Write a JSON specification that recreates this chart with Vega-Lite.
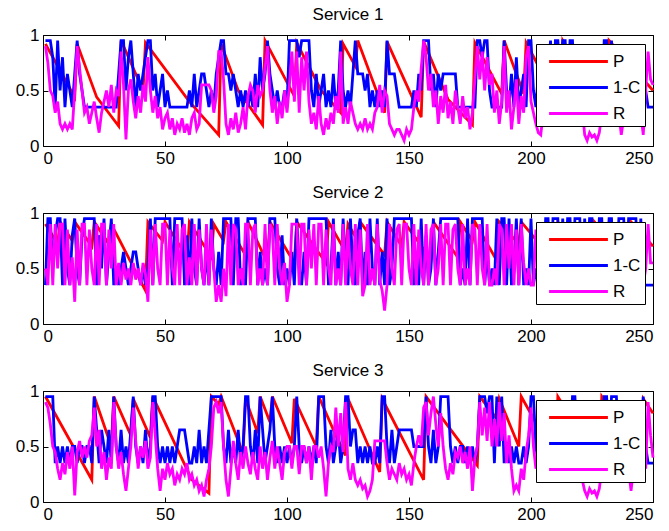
{
"$schema":"https://vega.github.io/schema/vega-lite/v6.json",
"padding":{"left":14,"top":5,"right":0,"bottom":4},
"background":"white",
"spacing":16,
"config":{
 "view":{"stroke":"black","strokeWidth":1},
 "font":"Liberation Sans",
 "axis":{"grid":false,"domain":false,"tickColor":"black","tickSize":-5,"labelColor":"black","labelFontSize":17,"labelFont":"Liberation Sans","labelPadding":9},
 "title":{"fontSize":17,"fontWeight":"normal","font":"Liberation Sans","color":"black","offset":2},
 "line":{"strokeWidth":2.8}
},
"resolve":{"scale":{"color":"independent"}},
"datasets":{
"p1":[{"x":1,"y":0.92},{"x":13,"y":0.44},{"x":14,"y":0.92},{"x":22,"y":0.44},{"x":31,"y":0.18},{"x":32,"y":0.95},{"x":41,"y":0.5},{"x":42,"y":0.93},{"x":60,"y":0.4},{"x":72,"y":0.1},{"x":73,"y":0.92},{"x":80,"y":0.5},{"x":90,"y":0.19},{"x":91,"y":0.95},{"x":103,"y":0.45},{"x":104,"y":0.93},{"x":114,"y":0.5},{"x":122,"y":0.3},{"x":123,"y":0.92},{"x":128,"y":0.72},{"x":129,"y":0.95},{"x":140,"y":0.3},{"x":141,"y":0.94},{"x":155,"y":0.26},{"x":156,"y":0.94},{"x":166,"y":0.42},{"x":176,"y":0.19},{"x":177,"y":0.93},{"x":188,"y":0.47},{"x":189,"y":0.95},{"x":197,"y":0.47},{"x":198,"y":0.93},{"x":212,"y":0.35},{"x":213,"y":0.95},{"x":231,"y":0.3},{"x":232,"y":0.95},{"x":250,"y":0.5}],
"p2":[{"x":1,"y":0.9},{"x":6,"y":0.72},{"x":7,"y":0.92},{"x":12,"y":0.75},{"x":13,"y":0.92},{"x":20,"y":0.7},{"x":21,"y":0.92},{"x":27,"y":0.72},{"x":28,"y":0.9},{"x":42,"y":0.3},{"x":43,"y":0.92},{"x":49,"y":0.75},{"x":50,"y":0.92},{"x":59,"y":0.6},{"x":60,"y":0.92},{"x":69,"y":0.6},{"x":70,"y":0.9},{"x":74,"y":0.75},{"x":75,"y":0.92},{"x":83,"y":0.62},{"x":84,"y":0.92},{"x":92,"y":0.55},{"x":93,"y":0.92},{"x":103,"y":0.55},{"x":104,"y":0.92},{"x":116,"y":0.55},{"x":117,"y":0.92},{"x":124,"y":0.65},{"x":125,"y":0.9},{"x":129,"y":0.75},{"x":130,"y":0.92},{"x":140,"y":0.62},{"x":141,"y":0.92},{"x":147,"y":0.7},{"x":148,"y":0.92},{"x":159,"y":0.58},{"x":160,"y":0.92},{"x":170,"y":0.6},{"x":171,"y":0.92},{"x":176,"y":0.75},{"x":177,"y":0.92},{"x":186,"y":0.57},{"x":187,"y":0.92},{"x":195,"y":0.72},{"x":196,"y":0.92},{"x":210,"y":0.55},{"x":211,"y":0.92},{"x":225,"y":0.5},{"x":226,"y":0.92},{"x":240,"y":0.55},{"x":241,"y":0.92},{"x":250,"y":0.7}],
"p3":[{"x":1,"y":0.95},{"x":20,"y":0.2},{"x":21,"y":0.95},{"x":28,"y":0.5},{"x":29,"y":0.95},{"x":36,"y":0.6},{"x":37,"y":0.93},{"x":44,"y":0.58},{"x":45,"y":0.95},{"x":61,"y":0.2},{"x":68,"y":0.08},{"x":69,"y":0.95},{"x":72,"y":0.88},{"x":73,"y":0.95},{"x":82,"y":0.44},{"x":83,"y":0.93},{"x":88,"y":0.62},{"x":89,"y":0.95},{"x":93,"y":0.72},{"x":94,"y":0.95},{"x":102,"y":0.53},{"x":103,"y":0.93},{"x":112,"y":0.5},{"x":113,"y":0.95},{"x":120,"y":0.6},{"x":124,"y":0.42},{"x":125,"y":0.93},{"x":138,"y":0.27},{"x":139,"y":0.93},{"x":156,"y":0.2},{"x":157,"y":0.95},{"x":178,"y":0.33},{"x":179,"y":0.95},{"x":186,"y":0.75},{"x":187,"y":0.93},{"x":195,"y":0.5},{"x":196,"y":0.95},{"x":210,"y":0.4},{"x":211,"y":0.95},{"x":228,"y":0.35},{"x":229,"y":0.95},{"x":245,"y":0.45},{"x":246,"y":0.93},{"x":250,"y":0.8}],
"d1":[{"x":1,"1-C":0.95,"R":0.9},{"x":2,"1-C":0.95,"R":0.75},{"x":3,"1-C":0.95,"R":0.5},{"x":4,"1-C":0.8,"R":0.45},{"x":5,"1-C":0.35,"R":0.3},{"x":6,"1-C":0.95,"R":0.4},{"x":7,"1-C":0.5,"R":0.2},{"x":8,"1-C":0.8,"R":0.15},{"x":9,"1-C":0.35,"R":0.2},{"x":10,"1-C":0.65,"R":0.15},{"x":11,"1-C":0.5,"R":0.2},{"x":12,"1-C":0.35,"R":0.15},{"x":13,"1-C":0.65,"R":0.5},{"x":14,"1-C":0.95,"R":0.9},{"x":15,"1-C":0.65,"R":0.7},{"x":16,"1-C":0.5,"R":0.5},{"x":17,"1-C":0.35,"R":0.3},{"x":18,"1-C":0.35,"R":0.35},{"x":19,"1-C":0.35,"R":0.2},{"x":20,"1-C":0.35,"R":0.3},{"x":21,"1-C":0.35,"R":0.4},{"x":22,"1-C":0.35,"R":0.25},{"x":23,"1-C":0.35,"R":0.12},{"x":24,"1-C":0.35,"R":0.3},{"x":25,"1-C":0.35,"R":0.4},{"x":26,"1-C":0.35,"R":0.5},{"x":27,"1-C":0.35,"R":0.35},{"x":28,"1-C":0.35,"R":0.55},{"x":29,"1-C":0.35,"R":0.3},{"x":30,"1-C":0.35,"R":0.5},{"x":31,"1-C":0.65,"R":0.45},{"x":32,"1-C":0.95,"R":0.85},{"x":33,"1-C":0.95,"R":0.55},{"x":34,"1-C":0.5,"R":0.06},{"x":35,"1-C":0.8,"R":0.5},{"x":36,"1-C":0.95,"R":0.6},{"x":37,"1-C":0.65,"R":0.4},{"x":38,"1-C":0.35,"R":0.25},{"x":39,"1-C":0.65,"R":0.45},{"x":40,"1-C":0.5,"R":0.3},{"x":41,"1-C":0.65,"R":0.55},{"x":42,"1-C":0.8,"R":0.4},{"x":43,"1-C":0.95,"R":0.8},{"x":44,"1-C":0.95,"R":0.5},{"x":45,"1-C":0.5,"R":0.3},{"x":46,"1-C":0.65,"R":0.45},{"x":47,"1-C":0.35,"R":0.25},{"x":48,"1-C":0.5,"R":0.35},{"x":49,"1-C":0.65,"R":0.15},{"x":50,"1-C":0.35,"R":0.25},{"x":51,"1-C":0.5,"R":0.3},{"x":52,"1-C":0.35,"R":0.15},{"x":53,"1-C":0.35,"R":0.25},{"x":54,"1-C":0.35,"R":0.1},{"x":55,"1-C":0.35,"R":0.2},{"x":56,"1-C":0.35,"R":0.15},{"x":57,"1-C":0.35,"R":0.25},{"x":58,"1-C":0.35,"R":0.12},{"x":59,"1-C":0.35,"R":0.2},{"x":60,"1-C":0.5,"R":0.1},{"x":61,"1-C":0.35,"R":0.25},{"x":62,"1-C":0.65,"R":0.3},{"x":63,"1-C":0.35,"R":0.15},{"x":64,"1-C":0.5,"R":0.2},{"x":65,"1-C":0.65,"R":0.55},{"x":66,"1-C":0.65,"R":0.55},{"x":67,"1-C":0.5,"R":0.55},{"x":68,"1-C":0.35,"R":0.55},{"x":69,"1-C":0.5,"R":0.5},{"x":70,"1-C":0.35,"R":0.3},{"x":71,"1-C":0.65,"R":0.45},{"x":72,"1-C":0.8,"R":0.85},{"x":73,"1-C":0.95,"R":0.85},{"x":74,"1-C":0.95,"R":0.6},{"x":75,"1-C":0.65,"R":0.2},{"x":76,"1-C":0.65,"R":0.1},{"x":77,"1-C":0.5,"R":0.25},{"x":78,"1-C":0.65,"R":0.15},{"x":79,"1-C":0.5,"R":0.3},{"x":80,"1-C":0.35,"R":0.12},{"x":81,"1-C":0.5,"R":0.2},{"x":82,"1-C":0.35,"R":0.35},{"x":83,"1-C":0.5,"R":0.15},{"x":84,"1-C":0.35,"R":0.45},{"x":85,"1-C":0.5,"R":0.55},{"x":86,"1-C":0.35,"R":0.5},{"x":87,"1-C":0.65,"R":0.3},{"x":88,"1-C":0.35,"R":0.55},{"x":89,"1-C":0.8,"R":0.45},{"x":90,"1-C":0.5,"R":0.5},{"x":91,"1-C":0.65,"R":0.7},{"x":92,"1-C":0.95,"R":0.9},{"x":93,"1-C":0.65,"R":0.5},{"x":94,"1-C":0.5,"R":0.3},{"x":95,"1-C":0.35,"R":0.45},{"x":96,"1-C":0.5,"R":0.2},{"x":97,"1-C":0.35,"R":0.4},{"x":98,"1-C":0.35,"R":0.25},{"x":99,"1-C":0.5,"R":0.5},{"x":100,"1-C":0.35,"R":0.3},{"x":101,"1-C":0.95,"R":0.55},{"x":102,"1-C":0.95,"R":0.85},{"x":103,"1-C":0.95,"R":0.4},{"x":104,"1-C":0.95,"R":0.85},{"x":105,"1-C":0.8,"R":0.3},{"x":106,"1-C":0.95,"R":0.8},{"x":107,"1-C":0.95,"R":0.5},{"x":108,"1-C":0.95,"R":0.85},{"x":109,"1-C":0.95,"R":0.4},{"x":110,"1-C":0.5,"R":0.2},{"x":111,"1-C":0.35,"R":0.3},{"x":112,"1-C":0.65,"R":0.15},{"x":113,"1-C":0.35,"R":0.45},{"x":114,"1-C":0.5,"R":0.2},{"x":115,"1-C":0.65,"R":0.1},{"x":116,"1-C":0.35,"R":0.25},{"x":117,"1-C":0.5,"R":0.15},{"x":118,"1-C":0.35,"R":0.3},{"x":119,"1-C":0.65,"R":0.2},{"x":120,"1-C":0.35,"R":0.45},{"x":121,"1-C":0.5,"R":0.3},{"x":122,"1-C":0.95,"R":0.85},{"x":123,"1-C":0.5,"R":0.2},{"x":124,"1-C":0.35,"R":0.35},{"x":125,"1-C":0.5,"R":0.2},{"x":126,"1-C":0.35,"R":0.4},{"x":127,"1-C":0.65,"R":0.3},{"x":128,"1-C":0.95,"R":0.2},{"x":129,"1-C":0.65,"R":0.15},{"x":130,"1-C":0.65,"R":0.2},{"x":131,"1-C":0.65,"R":0.15},{"x":132,"1-C":0.5,"R":0.25},{"x":133,"1-C":0.65,"R":0.15},{"x":134,"1-C":0.35,"R":0.2},{"x":135,"1-C":0.5,"R":0.15},{"x":136,"1-C":0.35,"R":0.3},{"x":137,"1-C":0.5,"R":0.35},{"x":138,"1-C":0.35,"R":0.55},{"x":139,"1-C":0.5,"R":0.3},{"x":140,"1-C":0.35,"R":0.5},{"x":141,"1-C":0.95,"R":0.45},{"x":142,"1-C":0.65,"R":0.2},{"x":143,"1-C":0.65,"R":0.15},{"x":144,"1-C":0.65,"R":0.1},{"x":145,"1-C":0.5,"R":0.15},{"x":146,"1-C":0.35,"R":0.15},{"x":147,"1-C":0.35,"R":0.1},{"x":148,"1-C":0.35,"R":0.05},{"x":149,"1-C":0.35,"R":0.15},{"x":150,"1-C":0.35,"R":0.1},{"x":151,"1-C":0.35,"R":0.15},{"x":152,"1-C":0.5,"R":0.35},{"x":153,"1-C":0.35,"R":0.5},{"x":154,"1-C":0.65,"R":0.4},{"x":155,"1-C":0.5,"R":0.7},{"x":156,"1-C":0.95,"R":0.95},{"x":157,"1-C":0.95,"R":0.8},{"x":158,"1-C":0.95,"R":0.5},{"x":159,"1-C":0.5,"R":0.65},{"x":160,"1-C":0.65,"R":0.35},{"x":161,"1-C":0.35,"R":0.5},{"x":162,"1-C":0.65,"R":0.2},{"x":163,"1-C":0.5,"R":0.45},{"x":164,"1-C":0.65,"R":0.3},{"x":165,"1-C":0.65,"R":0.55},{"x":166,"1-C":0.65,"R":0.25},{"x":167,"1-C":0.65,"R":0.4},{"x":168,"1-C":0.65,"R":0.2},{"x":169,"1-C":0.65,"R":0.5},{"x":170,"1-C":0.35,"R":0.35},{"x":171,"1-C":0.35,"R":0.2},{"x":172,"1-C":0.35,"R":0.45},{"x":173,"1-C":0.35,"R":0.25},{"x":174,"1-C":0.35,"R":0.35},{"x":175,"1-C":0.35,"R":0.15},{"x":176,"1-C":0.35,"R":0.3},{"x":177,"1-C":0.35,"R":0.6},{"x":178,"1-C":0.95,"R":0.9},{"x":179,"1-C":0.95,"R":0.6},{"x":180,"1-C":0.8,"R":0.85},{"x":181,"1-C":0.95,"R":0.5},{"x":182,"1-C":0.95,"R":0.8},{"x":183,"1-C":0.5,"R":0.55},{"x":184,"1-C":0.35,"R":0.65},{"x":185,"1-C":0.35,"R":0.3},{"x":186,"1-C":0.35,"R":0.5},{"x":187,"1-C":0.35,"R":0.2},{"x":188,"1-C":0.35,"R":0.4},{"x":189,"1-C":0.95,"R":0.9},{"x":190,"1-C":0.5,"R":0.3},{"x":191,"1-C":0.35,"R":0.5},{"x":192,"1-C":0.65,"R":0.15},{"x":193,"1-C":0.35,"R":0.35},{"x":194,"1-C":0.8,"R":0.6},{"x":195,"1-C":0.35,"R":0.2},{"x":196,"1-C":0.5,"R":0.45},{"x":197,"1-C":0.65,"R":0.3},{"x":198,"1-C":0.35,"R":0.8},{"x":199,"1-C":0.95,"R":0.9},{"x":200,"1-C":0.95,"R":0.4},{"x":201,"1-C":0.5,"R":0.3},{"x":202,"1-C":0.35,"R":0.2},{"x":203,"1-C":0.65,"R":0.12},{"x":204,"1-C":0.35,"R":0.1},{"x":205,"1-C":0.5,"R":0.3},{"x":206,"1-C":0.35,"R":0.5},{"x":207,"1-C":0.65,"R":0.4},{"x":208,"1-C":0.95,"R":0.6},{"x":209,"1-C":0.5,"R":0.3},{"x":210,"1-C":0.95,"R":0.5},{"x":211,"1-C":0.95,"R":0.7},{"x":212,"1-C":0.65,"R":0.4},{"x":213,"1-C":0.95,"R":0.8},{"x":214,"1-C":0.95,"R":0.5},{"x":215,"1-C":0.5,"R":0.3},{"x":216,"1-C":0.95,"R":0.6},{"x":217,"1-C":0.95,"R":0.4},{"x":218,"1-C":0.5,"R":0.3},{"x":219,"1-C":0.35,"R":0.4},{"x":220,"1-C":0.65,"R":0.25},{"x":221,"1-C":0.35,"R":0.35},{"x":222,"1-C":0.5,"R":0.1},{"x":223,"1-C":0.35,"R":0.05},{"x":224,"1-C":0.35,"R":0.12},{"x":225,"1-C":0.5,"R":0.08},{"x":226,"1-C":0.35,"R":0.1},{"x":227,"1-C":0.65,"R":0.05},{"x":228,"1-C":0.5,"R":0.12},{"x":229,"1-C":0.35,"R":0.3},{"x":230,"1-C":0.95,"R":0.7},{"x":231,"1-C":0.95,"R":0.5},{"x":232,"1-C":0.65,"R":0.4},{"x":233,"1-C":0.95,"R":0.6},{"x":234,"1-C":0.5,"R":0.3},{"x":235,"1-C":0.35,"R":0.25},{"x":236,"1-C":0.5,"R":0.3},{"x":237,"1-C":0.35,"R":0.1},{"x":238,"1-C":0.65,"R":0.25},{"x":239,"1-C":0.35,"R":0.3},{"x":240,"1-C":0.5,"R":0.4},{"x":241,"1-C":0.35,"R":0.3},{"x":242,"1-C":0.35,"R":0.2},{"x":243,"1-C":0.5,"R":0.35},{"x":244,"1-C":0.35,"R":0.25},{"x":245,"1-C":0.65,"R":0.3},{"x":246,"1-C":0.35,"R":0.1},{"x":247,"1-C":0.5,"R":0.5},{"x":248,"1-C":0.35,"R":0.85},{"x":249,"1-C":0.35,"R":0.6},{"x":250,"1-C":0.35,"R":0.55}],
"d2":[{"x":1,"1-C":0.35,"R":0.5},{"x":2,"1-C":0.95,"R":0.35},{"x":3,"1-C":0.95,"R":0.9},{"x":4,"1-C":0.5,"R":0.35},{"x":5,"1-C":0.8,"R":0.9},{"x":6,"1-C":0.95,"R":0.5},{"x":7,"1-C":0.95,"R":0.9},{"x":8,"1-C":0.35,"R":0.9},{"x":9,"1-C":0.95,"R":0.35},{"x":10,"1-C":0.5,"R":0.85},{"x":11,"1-C":0.35,"R":0.35},{"x":12,"1-C":0.8,"R":0.6},{"x":13,"1-C":0.95,"R":0.2},{"x":14,"1-C":0.5,"R":0.85},{"x":15,"1-C":0.35,"R":0.35},{"x":16,"1-C":0.8,"R":0.9},{"x":17,"1-C":0.95,"R":0.9},{"x":18,"1-C":0.95,"R":0.35},{"x":19,"1-C":0.95,"R":0.85},{"x":20,"1-C":0.95,"R":0.5},{"x":21,"1-C":0.95,"R":0.35},{"x":22,"1-C":0.35,"R":0.9},{"x":23,"1-C":0.8,"R":0.35},{"x":24,"1-C":0.5,"R":0.9},{"x":25,"1-C":0.95,"R":0.9},{"x":26,"1-C":0.35,"R":0.35},{"x":27,"1-C":0.65,"R":0.85},{"x":28,"1-C":0.95,"R":0.5},{"x":29,"1-C":0.35,"R":0.9},{"x":30,"1-C":0.5,"R":0.35},{"x":31,"1-C":0.35,"R":0.55},{"x":32,"1-C":0.5,"R":0.35},{"x":33,"1-C":0.65,"R":0.55},{"x":34,"1-C":0.5,"R":0.4},{"x":35,"1-C":0.35,"R":0.5},{"x":36,"1-C":0.5,"R":0.35},{"x":37,"1-C":0.65,"R":0.55},{"x":38,"1-C":0.65,"R":0.4},{"x":39,"1-C":0.5,"R":0.5},{"x":40,"1-C":0.35,"R":0.35},{"x":41,"1-C":0.5,"R":0.55},{"x":42,"1-C":0.35,"R":0.45},{"x":43,"1-C":0.5,"R":0.2},{"x":44,"1-C":0.95,"R":0.85},{"x":45,"1-C":0.35,"R":0.35},{"x":46,"1-C":0.95,"R":0.9},{"x":47,"1-C":0.95,"R":0.5},{"x":48,"1-C":0.95,"R":0.35},{"x":49,"1-C":0.95,"R":0.9},{"x":50,"1-C":0.95,"R":0.9},{"x":51,"1-C":0.95,"R":0.35},{"x":52,"1-C":0.95,"R":0.85},{"x":53,"1-C":0.35,"R":0.5},{"x":54,"1-C":0.95,"R":0.35},{"x":55,"1-C":0.95,"R":0.9},{"x":56,"1-C":0.95,"R":0.35},{"x":57,"1-C":0.95,"R":0.85},{"x":58,"1-C":0.35,"R":0.9},{"x":59,"1-C":0.8,"R":0.35},{"x":60,"1-C":0.35,"R":0.6},{"x":61,"1-C":0.95,"R":0.35},{"x":62,"1-C":0.5,"R":0.9},{"x":63,"1-C":0.35,"R":0.35},{"x":64,"1-C":0.95,"R":0.85},{"x":65,"1-C":0.5,"R":0.5},{"x":66,"1-C":0.35,"R":0.35},{"x":67,"1-C":0.65,"R":0.9},{"x":68,"1-C":0.35,"R":0.35},{"x":69,"1-C":0.95,"R":0.85},{"x":70,"1-C":0.5,"R":0.5},{"x":71,"1-C":0.35,"R":0.2},{"x":72,"1-C":0.65,"R":0.35},{"x":73,"1-C":0.35,"R":0.2},{"x":74,"1-C":0.95,"R":0.5},{"x":75,"1-C":0.95,"R":0.25},{"x":76,"1-C":0.95,"R":0.9},{"x":77,"1-C":0.95,"R":0.35},{"x":78,"1-C":0.35,"R":0.9},{"x":79,"1-C":0.95,"R":0.85},{"x":80,"1-C":0.95,"R":0.35},{"x":81,"1-C":0.35,"R":0.5},{"x":82,"1-C":0.5,"R":0.35},{"x":83,"1-C":0.35,"R":0.9},{"x":84,"1-C":0.95,"R":0.9},{"x":85,"1-C":0.95,"R":0.35},{"x":86,"1-C":0.95,"R":0.85},{"x":87,"1-C":0.95,"R":0.9},{"x":88,"1-C":0.35,"R":0.35},{"x":89,"1-C":0.65,"R":0.5},{"x":90,"1-C":0.35,"R":0.35},{"x":91,"1-C":0.5,"R":0.9},{"x":92,"1-C":0.35,"R":0.35},{"x":93,"1-C":0.95,"R":0.9},{"x":94,"1-C":0.95,"R":0.85},{"x":95,"1-C":0.95,"R":0.35},{"x":96,"1-C":0.5,"R":0.9},{"x":97,"1-C":0.35,"R":0.5},{"x":98,"1-C":0.8,"R":0.35},{"x":99,"1-C":0.35,"R":0.55},{"x":100,"1-C":0.5,"R":0.2},{"x":101,"1-C":0.35,"R":0.35},{"x":102,"1-C":0.65,"R":0.9},{"x":103,"1-C":0.35,"R":0.9},{"x":104,"1-C":0.95,"R":0.9},{"x":105,"1-C":0.5,"R":0.35},{"x":106,"1-C":0.35,"R":0.9},{"x":107,"1-C":0.65,"R":0.9},{"x":108,"1-C":0.35,"R":0.35},{"x":109,"1-C":0.95,"R":0.85},{"x":110,"1-C":0.95,"R":0.5},{"x":111,"1-C":0.95,"R":0.9},{"x":112,"1-C":0.95,"R":0.35},{"x":113,"1-C":0.95,"R":0.9},{"x":114,"1-C":0.95,"R":0.9},{"x":115,"1-C":0.95,"R":0.35},{"x":116,"1-C":0.95,"R":0.85},{"x":117,"1-C":0.35,"R":0.5},{"x":118,"1-C":0.5,"R":0.35},{"x":119,"1-C":0.95,"R":0.9},{"x":120,"1-C":0.35,"R":0.35},{"x":121,"1-C":0.65,"R":0.5},{"x":122,"1-C":0.35,"R":0.35},{"x":123,"1-C":0.95,"R":0.9},{"x":124,"1-C":0.5,"R":0.35},{"x":125,"1-C":0.35,"R":0.85},{"x":126,"1-C":0.95,"R":0.5},{"x":127,"1-C":0.5,"R":0.35},{"x":128,"1-C":0.35,"R":0.9},{"x":129,"1-C":0.8,"R":0.35},{"x":130,"1-C":0.95,"R":0.85},{"x":131,"1-C":0.35,"R":0.25},{"x":132,"1-C":0.65,"R":0.35},{"x":133,"1-C":0.35,"R":0.9},{"x":134,"1-C":0.95,"R":0.35},{"x":135,"1-C":0.5,"R":0.5},{"x":136,"1-C":0.35,"R":0.35},{"x":137,"1-C":0.95,"R":0.9},{"x":138,"1-C":0.35,"R":0.4},{"x":139,"1-C":0.65,"R":0.3},{"x":140,"1-C":0.35,"R":0.12},{"x":141,"1-C":0.95,"R":0.35},{"x":142,"1-C":0.35,"R":0.9},{"x":143,"1-C":0.5,"R":0.5},{"x":144,"1-C":0.95,"R":0.35},{"x":145,"1-C":0.95,"R":0.85},{"x":146,"1-C":0.95,"R":0.9},{"x":147,"1-C":0.95,"R":0.35},{"x":148,"1-C":0.95,"R":0.9},{"x":149,"1-C":0.95,"R":0.9},{"x":150,"1-C":0.95,"R":0.5},{"x":151,"1-C":0.95,"R":0.35},{"x":152,"1-C":0.35,"R":0.9},{"x":153,"1-C":0.5,"R":0.35},{"x":154,"1-C":0.35,"R":0.85},{"x":155,"1-C":0.95,"R":0.5},{"x":156,"1-C":0.35,"R":0.35},{"x":157,"1-C":0.8,"R":0.9},{"x":158,"1-C":0.35,"R":0.35},{"x":159,"1-C":0.5,"R":0.85},{"x":160,"1-C":0.95,"R":0.9},{"x":161,"1-C":0.35,"R":0.35},{"x":162,"1-C":0.65,"R":0.5},{"x":163,"1-C":0.95,"R":0.9},{"x":164,"1-C":0.95,"R":0.35},{"x":165,"1-C":0.95,"R":0.9},{"x":166,"1-C":0.95,"R":0.9},{"x":167,"1-C":0.95,"R":0.35},{"x":168,"1-C":0.95,"R":0.85},{"x":169,"1-C":0.95,"R":0.9},{"x":170,"1-C":0.95,"R":0.5},{"x":171,"1-C":0.35,"R":0.35},{"x":172,"1-C":0.5,"R":0.9},{"x":173,"1-C":0.35,"R":0.35},{"x":174,"1-C":0.95,"R":0.5},{"x":175,"1-C":0.35,"R":0.35},{"x":176,"1-C":0.95,"R":0.9},{"x":177,"1-C":0.95,"R":0.85},{"x":178,"1-C":0.95,"R":0.35},{"x":179,"1-C":0.95,"R":0.9},{"x":180,"1-C":0.95,"R":0.5},{"x":181,"1-C":0.35,"R":0.35},{"x":182,"1-C":0.65,"R":0.9},{"x":183,"1-C":0.35,"R":0.35},{"x":184,"1-C":0.5,"R":0.35},{"x":185,"1-C":0.35,"R":0.5},{"x":186,"1-C":0.95,"R":0.35},{"x":187,"1-C":0.35,"R":0.9},{"x":188,"1-C":0.95,"R":0.85},{"x":189,"1-C":0.95,"R":0.35},{"x":190,"1-C":0.35,"R":0.9},{"x":191,"1-C":0.95,"R":0.5},{"x":192,"1-C":0.35,"R":0.9},{"x":193,"1-C":0.5,"R":0.35},{"x":194,"1-C":0.95,"R":0.85},{"x":195,"1-C":0.35,"R":0.35},{"x":196,"1-C":0.95,"R":0.9},{"x":197,"1-C":0.35,"R":0.55},{"x":198,"1-C":0.5,"R":0.35},{"x":199,"1-C":0.35,"R":0.5},{"x":200,"1-C":0.95,"R":0.35},{"x":201,"1-C":0.35,"R":0.35},{"x":202,"1-C":0.5,"R":0.85},{"x":203,"1-C":0.35,"R":0.5},{"x":204,"1-C":0.65,"R":0.35},{"x":205,"1-C":0.35,"R":0.9},{"x":206,"1-C":0.95,"R":0.35},{"x":207,"1-C":0.95,"R":0.85},{"x":208,"1-C":0.35,"R":0.9},{"x":209,"1-C":0.95,"R":0.35},{"x":210,"1-C":0.95,"R":0.5},{"x":211,"1-C":0.95,"R":0.9},{"x":212,"1-C":0.35,"R":0.35},{"x":213,"1-C":0.95,"R":0.85},{"x":214,"1-C":0.5,"R":0.35},{"x":215,"1-C":0.95,"R":0.9},{"x":216,"1-C":0.95,"R":0.5},{"x":217,"1-C":0.35,"R":0.35},{"x":218,"1-C":0.95,"R":0.9},{"x":219,"1-C":0.95,"R":0.85},{"x":220,"1-C":0.95,"R":0.35},{"x":221,"1-C":0.35,"R":0.5},{"x":222,"1-C":0.95,"R":0.35},{"x":223,"1-C":0.5,"R":0.9},{"x":224,"1-C":0.95,"R":0.35},{"x":225,"1-C":0.95,"R":0.85},{"x":226,"1-C":0.35,"R":0.9},{"x":227,"1-C":0.35,"R":0.35},{"x":228,"1-C":0.95,"R":0.5},{"x":229,"1-C":0.95,"R":0.9},{"x":230,"1-C":0.35,"R":0.35},{"x":231,"1-C":0.5,"R":0.85},{"x":232,"1-C":0.95,"R":0.35},{"x":233,"1-C":0.95,"R":0.9},{"x":234,"1-C":0.35,"R":0.5},{"x":235,"1-C":0.35,"R":0.35},{"x":236,"1-C":0.95,"R":0.9},{"x":237,"1-C":0.95,"R":0.85},{"x":238,"1-C":0.95,"R":0.35},{"x":239,"1-C":0.35,"R":0.5},{"x":240,"1-C":0.95,"R":0.9},{"x":241,"1-C":0.95,"R":0.35},{"x":242,"1-C":0.95,"R":0.85},{"x":243,"1-C":0.95,"R":0.35},{"x":244,"1-C":0.35,"R":0.9},{"x":245,"1-C":0.95,"R":0.5},{"x":246,"1-C":0.35,"R":0.35},{"x":247,"1-C":0.35,"R":0.5},{"x":248,"1-C":0.35,"R":0.9},{"x":249,"1-C":0.35,"R":0.55},{"x":250,"1-C":0.35,"R":0.55}],
"d3":[{"x":1,"1-C":0.95,"R":0.9},{"x":2,"1-C":0.95,"R":0.85},{"x":3,"1-C":0.95,"R":0.7},{"x":4,"1-C":0.95,"R":0.5},{"x":5,"1-C":0.35,"R":0.45},{"x":6,"1-C":0.5,"R":0.3},{"x":7,"1-C":0.35,"R":0.2},{"x":8,"1-C":0.5,"R":0.35},{"x":9,"1-C":0.35,"R":0.25},{"x":10,"1-C":0.5,"R":0.45},{"x":11,"1-C":0.35,"R":0.3},{"x":12,"1-C":0.5,"R":0.5},{"x":13,"1-C":0.5,"R":0.06},{"x":14,"1-C":0.35,"R":0.45},{"x":15,"1-C":0.5,"R":0.55},{"x":16,"1-C":0.5,"R":0.4},{"x":17,"1-C":0.35,"R":0.5},{"x":18,"1-C":0.5,"R":0.4},{"x":19,"1-C":0.5,"R":0.55},{"x":20,"1-C":0.35,"R":0.6},{"x":21,"1-C":0.95,"R":0.85},{"x":22,"1-C":0.65,"R":0.5},{"x":23,"1-C":0.35,"R":0.65},{"x":24,"1-C":0.65,"R":0.3},{"x":25,"1-C":0.5,"R":0.45},{"x":26,"1-C":0.35,"R":0.2},{"x":27,"1-C":0.65,"R":0.4},{"x":28,"1-C":0.35,"R":0.3},{"x":29,"1-C":0.95,"R":0.9},{"x":30,"1-C":0.5,"R":0.5},{"x":31,"1-C":0.35,"R":0.3},{"x":32,"1-C":0.65,"R":0.45},{"x":33,"1-C":0.35,"R":0.25},{"x":34,"1-C":0.5,"R":0.1},{"x":35,"1-C":0.35,"R":0.3},{"x":36,"1-C":0.65,"R":0.5},{"x":37,"1-C":0.95,"R":0.85},{"x":38,"1-C":0.5,"R":0.55},{"x":39,"1-C":0.35,"R":0.3},{"x":40,"1-C":0.5,"R":0.5},{"x":41,"1-C":0.35,"R":0.4},{"x":42,"1-C":0.65,"R":0.55},{"x":43,"1-C":0.35,"R":0.3},{"x":44,"1-C":0.5,"R":0.4},{"x":45,"1-C":0.95,"R":0.9},{"x":46,"1-C":0.95,"R":0.6},{"x":47,"1-C":0.5,"R":0.3},{"x":48,"1-C":0.35,"R":0.1},{"x":49,"1-C":0.5,"R":0.3},{"x":50,"1-C":0.35,"R":0.2},{"x":51,"1-C":0.5,"R":0.35},{"x":52,"1-C":0.35,"R":0.25},{"x":53,"1-C":0.5,"R":0.3},{"x":54,"1-C":0.35,"R":0.15},{"x":55,"1-C":0.5,"R":0.25},{"x":56,"1-C":0.65,"R":0.2},{"x":57,"1-C":0.65,"R":0.3},{"x":58,"1-C":0.65,"R":0.25},{"x":59,"1-C":0.5,"R":0.35},{"x":60,"1-C":0.35,"R":0.2},{"x":61,"1-C":0.35,"R":0.25},{"x":62,"1-C":0.5,"R":0.15},{"x":63,"1-C":0.35,"R":0.2},{"x":64,"1-C":0.65,"R":0.1},{"x":65,"1-C":0.35,"R":0.15},{"x":66,"1-C":0.5,"R":0.05},{"x":67,"1-C":0.35,"R":0.2},{"x":68,"1-C":0.65,"R":0.3},{"x":69,"1-C":0.95,"R":0.5},{"x":70,"1-C":0.95,"R":0.85},{"x":71,"1-C":0.95,"R":0.9},{"x":72,"1-C":0.95,"R":0.8},{"x":73,"1-C":0.95,"R":0.9},{"x":74,"1-C":0.5,"R":0.5},{"x":75,"1-C":0.35,"R":0.2},{"x":76,"1-C":0.65,"R":0.05},{"x":77,"1-C":0.35,"R":0.3},{"x":78,"1-C":0.5,"R":0.55},{"x":79,"1-C":0.35,"R":0.35},{"x":80,"1-C":0.65,"R":0.2},{"x":81,"1-C":0.35,"R":0.45},{"x":82,"1-C":0.5,"R":0.3},{"x":83,"1-C":0.95,"R":0.5},{"x":84,"1-C":0.95,"R":0.35},{"x":85,"1-C":0.5,"R":0.25},{"x":86,"1-C":0.35,"R":0.45},{"x":87,"1-C":0.65,"R":0.3},{"x":88,"1-C":0.35,"R":0.2},{"x":89,"1-C":0.95,"R":0.5},{"x":90,"1-C":0.65,"R":0.3},{"x":91,"1-C":0.35,"R":0.45},{"x":92,"1-C":0.5,"R":0.2},{"x":93,"1-C":0.65,"R":0.4},{"x":94,"1-C":0.95,"R":0.55},{"x":95,"1-C":0.5,"R":0.3},{"x":96,"1-C":0.35,"R":0.5},{"x":97,"1-C":0.5,"R":0.35},{"x":98,"1-C":0.35,"R":0.2},{"x":99,"1-C":0.5,"R":0.45},{"x":100,"1-C":0.35,"R":0.5},{"x":101,"1-C":0.5,"R":0.5},{"x":102,"1-C":0.35,"R":0.3},{"x":103,"1-C":0.5,"R":0.5},{"x":104,"1-C":0.95,"R":0.5},{"x":105,"1-C":0.5,"R":0.25},{"x":106,"1-C":0.35,"R":0.5},{"x":107,"1-C":0.5,"R":0.5},{"x":108,"1-C":0.35,"R":0.35},{"x":109,"1-C":0.5,"R":0.5},{"x":110,"1-C":0.35,"R":0.2},{"x":111,"1-C":0.5,"R":0.5},{"x":112,"1-C":0.35,"R":0.5},{"x":113,"1-C":0.95,"R":0.4},{"x":114,"1-C":0.95,"R":0.5},{"x":115,"1-C":0.95,"R":0.3},{"x":116,"1-C":0.5,"R":0.05},{"x":117,"1-C":0.35,"R":0.35},{"x":118,"1-C":0.65,"R":0.5},{"x":119,"1-C":0.35,"R":0.45},{"x":120,"1-C":0.5,"R":0.85},{"x":121,"1-C":0.65,"R":0.5},{"x":122,"1-C":0.35,"R":0.8},{"x":123,"1-C":0.5,"R":0.45},{"x":124,"1-C":0.95,"R":0.9},{"x":125,"1-C":0.95,"R":0.3},{"x":126,"1-C":0.5,"R":0.2},{"x":127,"1-C":0.65,"R":0.35},{"x":128,"1-C":0.65,"R":0.2},{"x":129,"1-C":0.35,"R":0.15},{"x":130,"1-C":0.5,"R":0.2},{"x":131,"1-C":0.35,"R":0.12},{"x":132,"1-C":0.5,"R":0.15},{"x":133,"1-C":0.35,"R":0.05},{"x":134,"1-C":0.5,"R":0.1},{"x":135,"1-C":0.35,"R":0.2},{"x":136,"1-C":0.35,"R":0.55},{"x":137,"1-C":0.5,"R":0.55},{"x":138,"1-C":0.35,"R":0.55},{"x":139,"1-C":0.95,"R":0.55},{"x":140,"1-C":0.95,"R":0.55},{"x":141,"1-C":0.5,"R":0.35},{"x":142,"1-C":0.35,"R":0.2},{"x":143,"1-C":0.65,"R":0.3},{"x":144,"1-C":0.35,"R":0.25},{"x":145,"1-C":0.5,"R":0.2},{"x":146,"1-C":0.65,"R":0.35},{"x":147,"1-C":0.65,"R":0.25},{"x":148,"1-C":0.65,"R":0.3},{"x":149,"1-C":0.65,"R":0.2},{"x":150,"1-C":0.65,"R":0.25},{"x":151,"1-C":0.65,"R":0.15},{"x":152,"1-C":0.5,"R":0.35},{"x":153,"1-C":0.5,"R":0.5},{"x":154,"1-C":0.5,"R":0.6},{"x":155,"1-C":0.5,"R":0.5},{"x":156,"1-C":0.5,"R":0.85},{"x":157,"1-C":0.95,"R":0.9},{"x":158,"1-C":0.5,"R":0.6},{"x":159,"1-C":0.35,"R":0.8},{"x":160,"1-C":0.65,"R":0.95},{"x":161,"1-C":0.35,"R":0.7},{"x":162,"1-C":0.5,"R":0.5},{"x":163,"1-C":0.95,"R":0.8},{"x":164,"1-C":0.95,"R":0.5},{"x":165,"1-C":0.95,"R":0.3},{"x":166,"1-C":0.95,"R":0.2},{"x":167,"1-C":0.5,"R":0.35},{"x":168,"1-C":0.35,"R":0.25},{"x":169,"1-C":0.5,"R":0.45},{"x":170,"1-C":0.35,"R":0.4},{"x":171,"1-C":0.5,"R":0.5},{"x":172,"1-C":0.5,"R":0.35},{"x":173,"1-C":0.35,"R":0.45},{"x":174,"1-C":0.5,"R":0.3},{"x":175,"1-C":0.35,"R":0.5},{"x":176,"1-C":0.5,"R":0.1},{"x":177,"1-C":0.35,"R":0.4},{"x":178,"1-C":0.5,"R":0.5},{"x":179,"1-C":0.95,"R":0.9},{"x":180,"1-C":0.95,"R":0.6},{"x":181,"1-C":0.95,"R":0.85},{"x":182,"1-C":0.8,"R":0.55},{"x":183,"1-C":0.95,"R":0.9},{"x":184,"1-C":0.95,"R":0.5},{"x":185,"1-C":0.35,"R":0.75},{"x":186,"1-C":0.95,"R":0.5},{"x":187,"1-C":0.5,"R":0.9},{"x":188,"1-C":0.95,"R":0.55},{"x":189,"1-C":0.35,"R":0.8},{"x":190,"1-C":0.5,"R":0.35},{"x":191,"1-C":0.35,"R":0.6},{"x":192,"1-C":0.5,"R":0.3},{"x":193,"1-C":0.35,"R":0.1},{"x":194,"1-C":0.5,"R":0.15},{"x":195,"1-C":0.35,"R":0.1},{"x":196,"1-C":0.35,"R":0.3},{"x":197,"1-C":0.5,"R":0.2},{"x":198,"1-C":0.35,"R":0.45},{"x":199,"1-C":0.5,"R":0.6},{"x":200,"1-C":0.95,"R":0.85},{"x":201,"1-C":0.95,"R":0.5},{"x":202,"1-C":0.5,"R":0.3},{"x":203,"1-C":0.35,"R":0.4},{"x":204,"1-C":0.65,"R":0.25},{"x":205,"1-C":0.35,"R":0.5},{"x":206,"1-C":0.5,"R":0.3},{"x":207,"1-C":0.35,"R":0.45},{"x":208,"1-C":0.5,"R":0.35},{"x":209,"1-C":0.35,"R":0.2},{"x":210,"1-C":0.65,"R":0.4},{"x":211,"1-C":0.35,"R":0.3},{"x":212,"1-C":0.5,"R":0.5},{"x":213,"1-C":0.35,"R":0.25},{"x":214,"1-C":0.5,"R":0.4},{"x":215,"1-C":0.35,"R":0.3},{"x":216,"1-C":0.5,"R":0.5},{"x":217,"1-C":0.95,"R":0.9},{"x":218,"1-C":0.95,"R":0.6},{"x":219,"1-C":0.5,"R":0.3},{"x":220,"1-C":0.35,"R":0.4},{"x":221,"1-C":0.5,"R":0.2},{"x":222,"1-C":0.35,"R":0.1},{"x":223,"1-C":0.65,"R":0.05},{"x":224,"1-C":0.35,"R":0.12},{"x":225,"1-C":0.5,"R":0.08},{"x":226,"1-C":0.35,"R":0.1},{"x":227,"1-C":0.5,"R":0.05},{"x":228,"1-C":0.35,"R":0.12},{"x":229,"1-C":0.5,"R":0.3},{"x":230,"1-C":0.95,"R":0.8},{"x":231,"1-C":0.95,"R":0.5},{"x":232,"1-C":0.5,"R":0.3},{"x":233,"1-C":0.95,"R":0.7},{"x":234,"1-C":0.95,"R":0.5},{"x":235,"1-C":0.95,"R":0.3},{"x":236,"1-C":0.5,"R":0.4},{"x":237,"1-C":0.35,"R":0.25},{"x":238,"1-C":0.5,"R":0.35},{"x":239,"1-C":0.35,"R":0.2},{"x":240,"1-C":0.65,"R":0.3},{"x":241,"1-C":0.35,"R":0.1},{"x":242,"1-C":0.5,"R":0.3},{"x":243,"1-C":0.35,"R":0.4},{"x":244,"1-C":0.5,"R":0.25},{"x":245,"1-C":0.35,"R":0.4},{"x":246,"1-C":0.95,"R":0.8},{"x":247,"1-C":0.5,"R":0.3},{"x":248,"1-C":0.35,"R":0.9},{"x":249,"1-C":0.35,"R":0.6},{"x":250,"1-C":0.35,"R":0.4}]
},
"vconcat":[
{"title":"Service 1","width":610,"height":111,
 "layer":[
  {"data":{"name":"p1"},"mark":{"type":"line"},
   "encoding":{
    "x":{"field":"x","type":"quantitative","scale":{"domain":[0,250],"nice":false},"axis":{"values":[0,50,100,150,200,250]},"title":null},
    "y":{"field":"y","type":"quantitative","scale":{"domain":[0,1],"nice":false},"axis":{"values":[0,0.5,1],"format":"~g"},"title":null},
    "color":{"datum":"P","type":"nominal","title":null,"scale":{"domain":["P","1-C","R"],"range":["#ff0000","#0000ff","#ff00ff"]},
     "legend":{"orient":"none","legendX":493,"legendY":9,"title":null,"fillColor":"white","strokeColor":"black","padding":4,"symbolType":"M-2.45,0H2.45","symbolSize":576,"symbolStrokeWidth":2.8,"symbolOffset":25,"labelOffset":21,"labelFontSize":17,"labelFont":"Liberation Sans","labelColor":"black","rowPadding":4}}}},
  {"data":{"name":"d1"},"transform":[{"fold":["1-C","R"],"as":["k","y"]}],"mark":{"type":"line"},
   "encoding":{
    "x":{"field":"x","type":"quantitative","axis":{"orient":"top","labels":false,"values":[0,50,100,150,200,250]},"title":null},
    "y":{"field":"y","type":"quantitative","axis":{"orient":"right","labels":false,"values":[0,0.5,1]},"title":null},
    "color":{"field":"k","type":"nominal","title":null}}}
 ],
 "resolve":{"axis":{"x":"independent","y":"independent"}}},
{"title":"Service 2","width":610,"height":111,
 "layer":[
  {"data":{"name":"p2"},"mark":{"type":"line"},
   "encoding":{
    "x":{"field":"x","type":"quantitative","scale":{"domain":[0,250],"nice":false},"axis":{"values":[0,50,100,150,200,250]},"title":null},
    "y":{"field":"y","type":"quantitative","scale":{"domain":[0,1],"nice":false},"axis":{"values":[0,0.5,1],"format":"~g"},"title":null},
    "color":{"datum":"P","type":"nominal","title":null,"scale":{"domain":["P","1-C","R"],"range":["#ff0000","#0000ff","#ff00ff"]},
     "legend":{"orient":"none","legendX":493,"legendY":9,"title":null,"fillColor":"white","strokeColor":"black","padding":4,"symbolType":"M-2.45,0H2.45","symbolSize":576,"symbolStrokeWidth":2.8,"symbolOffset":25,"labelOffset":21,"labelFontSize":17,"labelFont":"Liberation Sans","labelColor":"black","rowPadding":4}}}},
  {"data":{"name":"d2"},"transform":[{"fold":["1-C","R"],"as":["k","y"]}],"mark":{"type":"line"},
   "encoding":{
    "x":{"field":"x","type":"quantitative","axis":{"orient":"top","labels":false,"values":[0,50,100,150,200,250]},"title":null},
    "y":{"field":"y","type":"quantitative","axis":{"orient":"right","labels":false,"values":[0,0.5,1]},"title":null},
    "color":{"field":"k","type":"nominal","title":null}}}
 ],
 "resolve":{"axis":{"x":"independent","y":"independent"}}},
{"title":"Service 3","width":610,"height":111,
 "layer":[
  {"data":{"name":"p3"},"mark":{"type":"line"},
   "encoding":{
    "x":{"field":"x","type":"quantitative","scale":{"domain":[0,250],"nice":false},"axis":{"values":[0,50,100,150,200,250]},"title":null},
    "y":{"field":"y","type":"quantitative","scale":{"domain":[0,1],"nice":false},"axis":{"values":[0,0.5,1],"format":"~g"},"title":null},
    "color":{"datum":"P","type":"nominal","title":null,"scale":{"domain":["P","1-C","R"],"range":["#ff0000","#0000ff","#ff00ff"]},
     "legend":{"orient":"none","legendX":493,"legendY":9,"title":null,"fillColor":"white","strokeColor":"black","padding":4,"symbolType":"M-2.45,0H2.45","symbolSize":576,"symbolStrokeWidth":2.8,"symbolOffset":25,"labelOffset":21,"labelFontSize":17,"labelFont":"Liberation Sans","labelColor":"black","rowPadding":4}}}},
  {"data":{"name":"d3"},"transform":[{"fold":["1-C","R"],"as":["k","y"]}],"mark":{"type":"line"},
   "encoding":{
    "x":{"field":"x","type":"quantitative","axis":{"orient":"top","labels":false,"values":[0,50,100,150,200,250]},"title":null},
    "y":{"field":"y","type":"quantitative","axis":{"orient":"right","labels":false,"values":[0,0.5,1]},"title":null},
    "color":{"field":"k","type":"nominal","title":null}}}
 ],
 "resolve":{"axis":{"x":"independent","y":"independent"}}}
]
}
